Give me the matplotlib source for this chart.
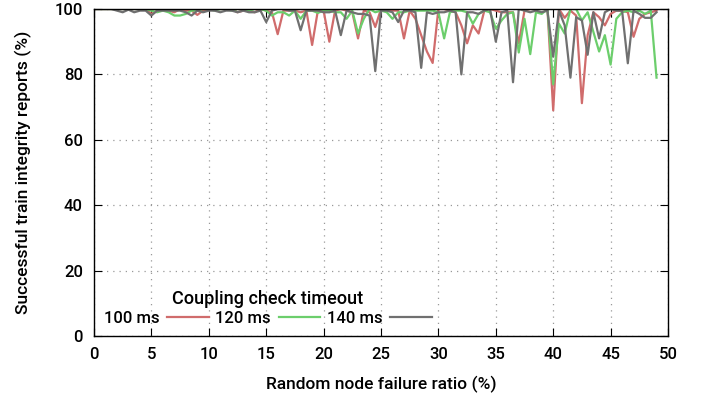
import numpy as np
import matplotlib
matplotlib.use("Agg")
import matplotlib.pyplot as plt

plt.rcParams['font.family'] = ['Roboto', 'DejaVu Sans']
plt.rcParams['font.size'] = 12
plt.rcParams['font.weight'] = 'medium'

# failure ratio, 0..49 in steps of 0.5
failure_ratio = np.arange(0, 49.5, 0.5)

# 100 ms
reports_100 = [
    100, 100, 100, 100, 100, 100, 100, 100, 100, 100,      # 0 - 4.5
    98.5, 99.5, 100, 99.5, 99, 100, 99.5, 99.5, 98.2, 99.5,  # 5 - 9.5
    100, 100, 100, 100, 100, 99, 99.5, 99.5, 99, 100,       # 10 - 14.5
    99.5, 99, 92.3, 99.5, 99.5, 99.5, 99, 99.5, 89, 99.5,   # 15 - 19.5
    99.5, 90, 99.5, 100, 99.5, 99, 91, 99.5, 99, 94.5,      # 20 - 24.5
    100, 100, 99.5, 99.5, 91, 99.5, 97, 92, 87, 83.5,       # 25 - 29.5
    100, 100, 99.5, 99, 95, 89.5, 95, 92.5, 99.5, 100,      # 30 - 34.5
    99.5, 99, 99, 99, 89.5, 99.5, 100, 100, 100, 100,       # 35 - 39.5
    69, 100, 97.3, 99.5, 98, 71.2, 92, 99, 97.5, 95,        # 40 - 44.5
    98.5, 99.5, 99.5, 99, 91.5, 97, 98.5, 99, 99.5,         # 45 - 49
]

# 120 ms
reports_120 = [
    100, 100, 100, 100, 100, 100, 100, 100, 100, 100,
    99.5, 99, 99.5, 99, 98, 98, 98.5, 99.5, 99.5, 100,
    100, 99.5, 100, 100, 99.5, 100, 100, 99.5, 100, 100,
    99.5, 98, 99, 99, 98, 99.5, 97, 99.5, 99.5, 98.8,
    99.5, 99.5, 99, 99, 97, 99.5, 92.5, 97, 100, 99,
    99.5, 99, 97, 99, 99, 99.5, 99.5, 99.5, 99.5, 99.5,
    99, 91, 99, 99.5, 99.5, 99, 95.5, 98.5, 99.5, 99,
    94, 96.5, 98.5, 99, 86.7, 97, 86.2, 99, 98.5, 100,
    77, 95.5, 92.5, 100, 100, 96.5, 99, 93, 87, 92,
    83, 97, 99, 99.5, 99, 99.5, 98.5, 99.5, 79,
]

# 140 ms
reports_140 = [
    100, 100, 100, 100, 99.5, 99, 99.8, 99, 99.5, 99.5,
    98, 99.5, 99.5, 99.5, 99.5, 99.5, 99, 98, 99.5, 99,
    99.5, 99.5, 99, 99.5, 99.5, 99, 99.5, 99, 99, 99.5,
    96, 99.5, 100, 100, 99.5, 99.5, 93.5, 99.5, 99.5, 99.5,
    99, 99, 99.5, 92, 99.5, 99, 98.5, 98.5, 98, 81,
    99.5, 99.5, 99, 96, 99.5, 99.5, 99, 82, 99, 98.5,
    99, 99, 99.5, 99, 80, 99, 99, 98.5, 99.5, 100,
    90, 99, 99.5, 77.6, 100, 99.5, 99, 99.5, 99, 99.5,
    85.4, 99.5, 95, 79, 97.5, 96.5, 86, 99, 91, 99,
    100, 99.5, 99.5, 83.4, 99.5, 98.5, 97.3, 97.3, 99,
]

labels = ['100 ms', '120 ms', '140 ms']
colors = ['#d06c6c', '#6cce6c', '#707070']

fig = plt.figure(figsize=(7.06, 4.07), dpi=100)
ax = fig.add_axes([94 / 706, 1 - 336 / 407, 574 / 706, 327 / 407])

for series, label, color in zip([reports_100, reports_120, reports_140], labels, colors):
    ax.plot(failure_ratio, series, color=color, lw=1.6, label=label)

ax.set_xlim(0, 50)
ax.set_ylim(0, 100)
ax.set_xticks(np.arange(0, 51, 5))
ax.set_yticks(np.arange(0, 101, 20))
ax.tick_params(direction='in', length=6, top=True, right=True, pad=8)
for t in ax.get_xticklabels() + ax.get_yticklabels():
    t.set_fontweight('medium')
ax.grid(True, linestyle=(0, (1, 4)), color='#999999', lw=0.9)
for s in ax.spines.values():
    s.set_linewidth(1.0)

ax.set_xlabel('Random node failure ratio (%)', labelpad=10, fontsize=12.5,
              fontweight='medium')
ax.set_ylabel('Successful train integrity reports (%)', labelpad=16, fontsize=12.5,
              fontweight='medium')

leg = ax.legend(ncol=3, markerfirst=False, title='Coupling check timeout',
                loc='lower left', bbox_to_anchor=(0.0, 0.0), frameon=False,
                handlelength=2.5, columnspacing=0.4, handletextpad=0.45,
                borderaxespad=0.3, borderpad=0.3, labelspacing=0.2,
                fontsize=12, title_fontsize=13)
leg.get_title().set_fontweight('medium')
leg._legend_box.align = 'center'

fig.savefig('out.png', dpi=100)
